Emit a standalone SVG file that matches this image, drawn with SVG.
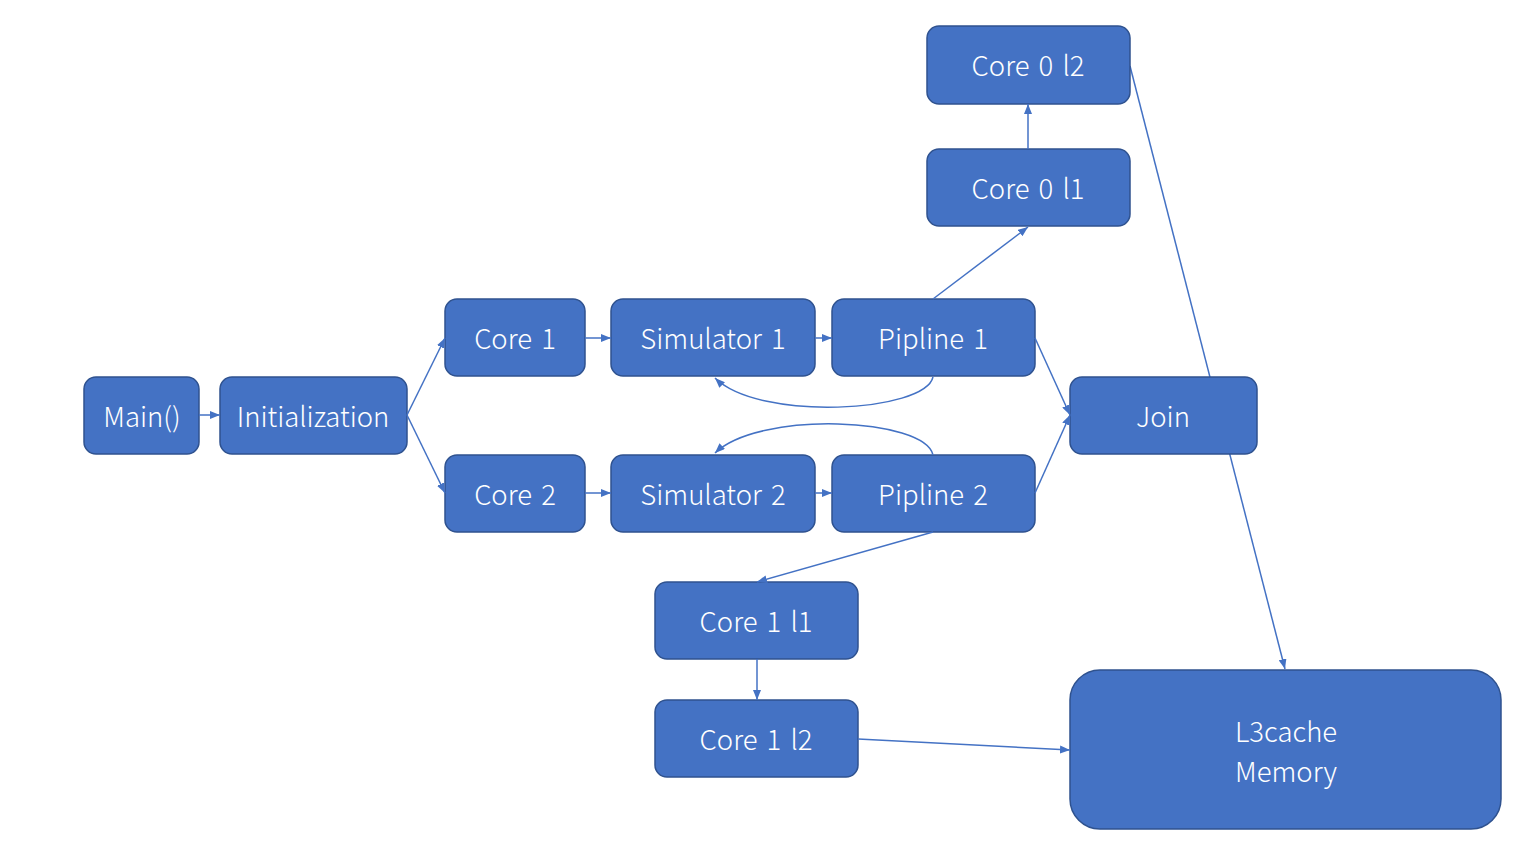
<svg xmlns="http://www.w3.org/2000/svg" width="1536" height="841" viewBox="0 0 1536 841">
<defs>
<marker id="arr" markerWidth="10" markerHeight="8" refX="10" refY="4" orient="auto" markerUnits="userSpaceOnUse">
<path d="M0,0 L10,4 L0,8 z" fill="#4472C4"/>
</marker>
<style>
.n rect{fill:#4472C4;stroke:#2F528F;stroke-width:1.5}
.n text{fill:#fff;font-family:"Noto Sans CJK SC","Noto Sans",sans-serif;font-size:27.5px;font-weight:300;word-spacing:3px;text-anchor:middle;dominant-baseline:central}
.c path{fill:none;stroke:#4472C4;stroke-width:1.5}
</style>
</defs>
<rect width="1536" height="841" fill="#fff"/>
<g class="c" id="connectors">
<path d="M1130,66 L1285,669" marker-end="url(#arr)"/>
</g>
<g class="n" id="join"><rect x="1070" y="377" width="187" height="77" rx="12"/><text x="1163" y="415">Join</text></g>
<g class="n" id="main"><rect x="84" y="377" width="115" height="77" rx="12"/><text x="142" y="415">Main()</text></g>
<g class="n" id="init"><rect x="220" y="377" width="187" height="77" rx="12"/><text x="313" y="415">Initialization</text></g>
<g class="n" id="core1"><rect x="445" y="299" width="140" height="77" rx="12"/><text x="515" y="337">Core 1</text></g>
<g class="n" id="core2"><rect x="445" y="455" width="140" height="77" rx="12"/><text x="515" y="493">Core 2</text></g>
<g class="n" id="sim1"><rect x="611" y="299" width="204" height="77" rx="12"/><text x="713" y="337">Simulator 1</text></g>
<g class="n" id="sim2"><rect x="611" y="455" width="204" height="77" rx="12"/><text x="713" y="493">Simulator 2</text></g>
<g class="n" id="pip1"><rect x="832" y="299" width="203" height="77" rx="12"/><text x="933" y="337">Pipline 1</text></g>
<g class="n" id="pip2"><rect x="832" y="455" width="203" height="77" rx="12"/><text x="933" y="493">Pipline 2</text></g>
<g class="n" id="c0l2"><rect x="927" y="26" width="203" height="78" rx="12"/><text x="1028" y="64">Core 0 l2</text></g>
<g class="n" id="c0l1"><rect x="927" y="149" width="203" height="77" rx="12"/><text x="1028" y="187">Core 0 l1</text></g>
<g class="n" id="c1l1"><rect x="655" y="582" width="203" height="77" rx="12"/><text x="756" y="620">Core 1 l1</text></g>
<g class="n" id="c1l2"><rect x="655" y="700" width="203" height="77" rx="12"/><text x="756" y="738">Core 1 l2</text></g>
<g class="n" id="l3"><rect x="1070" y="670" width="431" height="159" rx="30"/><text x="1286" y="730">L3cache</text><text x="1286" y="770">Memory</text></g>
<g class="c" id="connectors2">
<path d="M199,415 L220,415" marker-end="url(#arr)"/>
<path d="M407,415 L445,338" marker-end="url(#arr)"/>
<path d="M407,415 L445,493" marker-end="url(#arr)"/>
<path d="M585,338 L611,338" marker-end="url(#arr)"/>
<path d="M585,493 L611,493" marker-end="url(#arr)"/>
<path d="M815,338 L832,338" marker-end="url(#arr)"/>
<path d="M815,493 L832,493" marker-end="url(#arr)"/>
<path d="M933,377 C925,412 760,422 715,378" marker-end="url(#arr)"/>
<path d="M933,455 C925,418 760,410 715,453" marker-end="url(#arr)"/>
<path d="M933,299 L1028,227" marker-end="url(#arr)"/>
<path d="M1028,149 L1028,104" marker-end="url(#arr)"/>
<path d="M1035,338 L1070,415" marker-end="url(#arr)"/>
<path d="M1035,493 L1070,415" marker-end="url(#arr)"/>
<path d="M933,532 L757,582" marker-end="url(#arr)"/>
<path d="M757,659 L757,700" marker-end="url(#arr)"/>
<path d="M858,739 L1070,750" marker-end="url(#arr)"/>
</g>
</svg>
